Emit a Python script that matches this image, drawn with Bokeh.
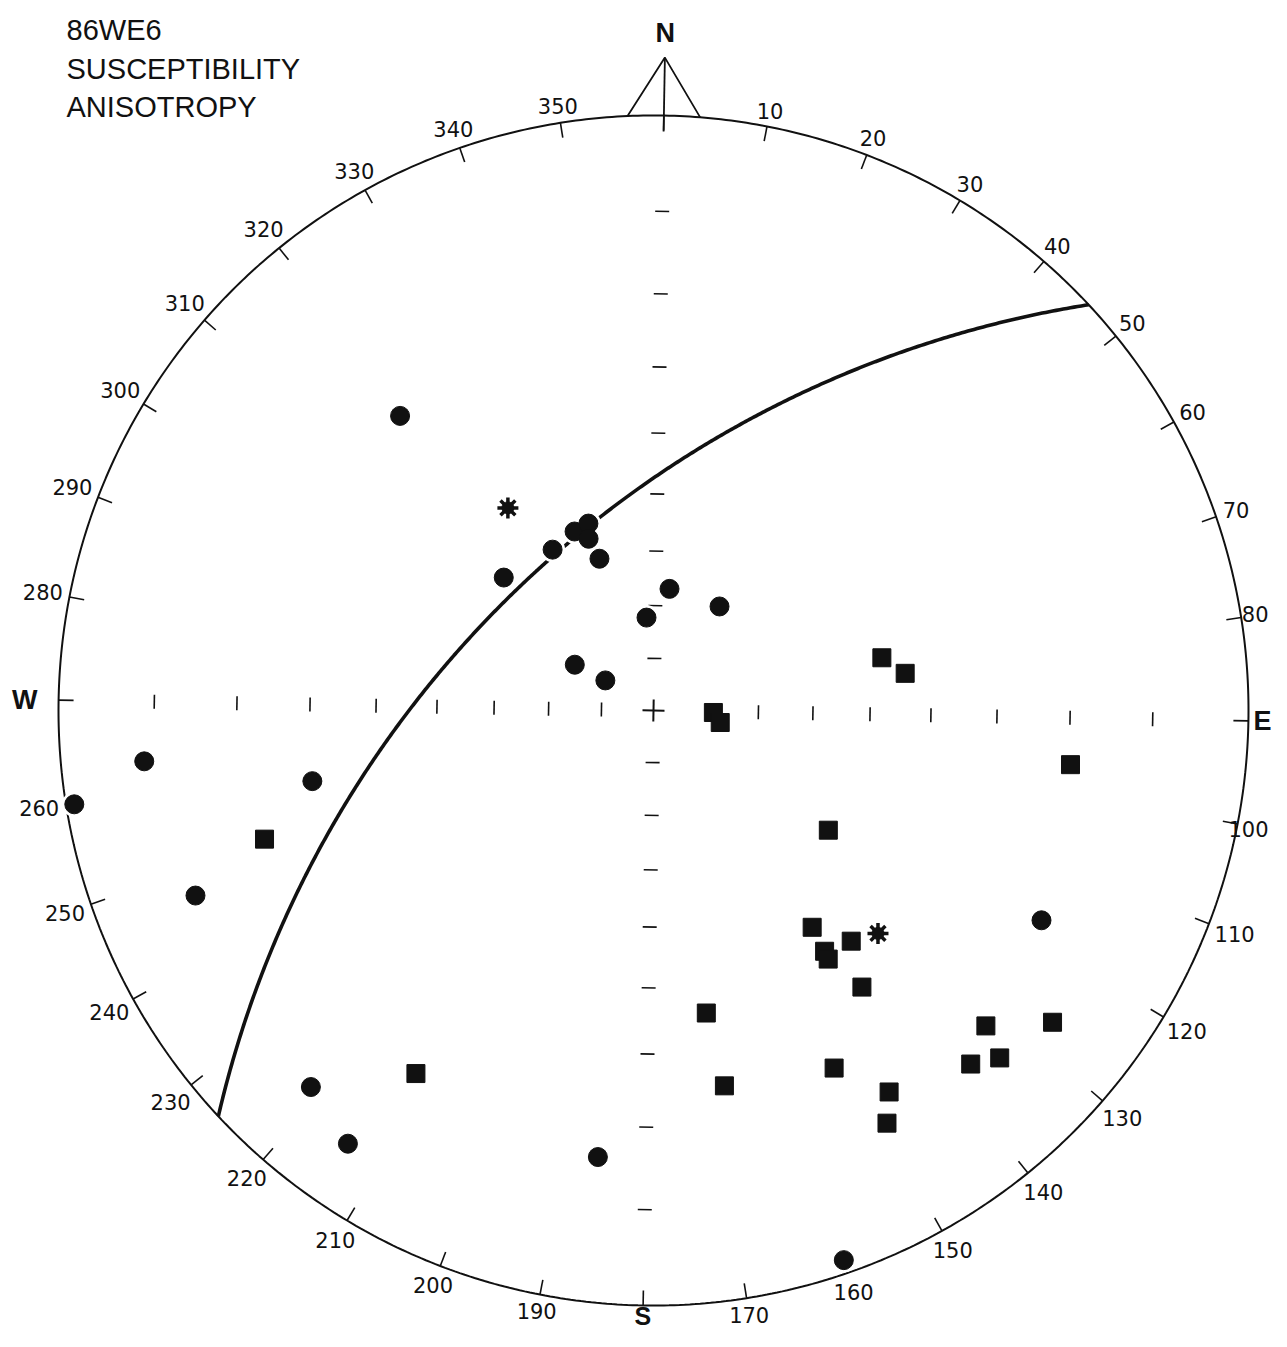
import numpy as np
from bokeh.plotting import figure
from bokeh.models import Range1d
from bokeh.core.properties import value
from bokeh.embed import file_html
from bokeh.resources import INLINE

# ---------------- data ----------------
TITLE_LINES = ["86WE6", "SUSCEPTIBILITY", "ANISOTROPY"]

# Wulff (equal-angle) lower-hemisphere net; trend / plunge in degrees
CIRCLE_TREND = [318.3, 310.6, 326.9, 335.2, 339.8, 338.3, 339.4, 6.5, 354.7, 31.4,
                299.2, 301.0, 263.3, 257.3, 259.8, 247.0, 221.3, 214.2, 186.1, 159.9, 117.4]
CIRCLE_PLUNGE = [23.7, 52.8, 54.6, 53.6, 53.2, 55.7, 59.7, 66.7, 72.2, 66.6,
                 72.6, 79.1, 8.6, 29.3, 0.8, 10.6, 8.9, 6.6, 15.8, 1.3, 16.9]

SQUARE_TREND = [76.0, 80.6, 90.9, 99.2, 96.4, 250.7, 123.4, 142.8, 138.4, 143.6, 143.9,
                142.0, 169.1, 132.5, 127.0, 137.1, 134.1, 152.2, 168.3, 147.3, 149.5, 212.2]
SQUARE_PLUNGE = [47.0, 43.7, 78.5, 77.0, 19.5, 20.9, 50.8, 41.4, 35.9, 37.2, 35.9,
                 29.6, 35.4, 14.8, 9.2, 12.8, 11.0, 22.1, 24.6, 16.0, 12.9, 17.8]

STAR_TREND = [323.3, 133.8]
STAR_PLUNGE = [44.5, 34.0]

PLANE_STRIKE = 226.0   # right-hand rule
PLANE_DIP = 56.0

RIM_LABEL_AZ = [a for a in range(10, 360, 10) if a % 90]
RIM_LABEL_TEXT = [str(a) for a in RIM_LABEL_AZ]
CARDINAL_TEXT = ["N", "E", "S", "W"]
CARDINAL_AZ = [0, 90, 180, 270]
AXIS_TICK_PLUNGE = [80, 70, 60, 50, 40, 30, 20, 10]

# ---------------- layout ----------------
W, H = 1271, 1331
CX, CY, RPX = 653.0, 710.0, 595.0     # net centre / radius in figure pixels
ROT = 1.0                              # the drawing is turned about 1 degree
INK = "#111111"


def px(n):
    return n / RPX


def polar(az, r):
    th = np.radians(np.asarray(az, dtype=float) + ROT)
    r = np.asarray(r, dtype=float)
    return r * np.sin(th), r * np.cos(th)


def wulff(trend, plunge):
    rho = np.tan(np.radians(90.0 - np.asarray(plunge, dtype=float)) / 2.0)
    return polar(trend, rho)


p = figure(width=W, height=H,
           x_range=Range1d(-CX / RPX, (W - CX) / RPX),
           y_range=Range1d((CY - H) / RPX, CY / RPX),
           output_backend="svg", toolbar_location=None,
           x_axis_location=None, y_axis_location=None, min_border=0)
p.grid.visible = False
p.outline_line_color = None
p.background_fill_color = "white"
p.border_fill_color = "white"

# primitive circle
az = np.linspace(0, 360, 721)
rx, ry = polar(az, np.ones_like(az))
p.line(rx, ry, line_color=INK, line_width=2)

# rim ticks every 10 degrees (inward)
taz = np.arange(0, 360, 10)
x0, y0 = polar(taz, np.ones_like(taz))
x1, y1 = polar(taz, np.full(len(taz), 1 - px(15)))
p.segment(x0, y0, x1, y1, line_color=INK, line_width=1.6)

# rim labels
fs = 21
xmax = px(W - CX - 3)
lx, ly = [], []
for a, t in zip(RIM_LABEL_AZ, RIM_LABEL_TEXT):
    th = np.radians(a + ROT)
    dx, dy = np.sin(th), np.cos(th)
    half_w = len(t) * 0.636 * fs / 2
    half_h = 0.36 * fs
    d = 6 + abs(dx) * half_w + abs(dy) * half_h
    xx, yy = polar(a, 1 + px(d))
    xx = min(float(xx), xmax - px(half_w))
    lx.append(xx)
    ly.append(float(yy))
p.text(lx, ly, text=RIM_LABEL_TEXT, text_font=value("DejaVu Sans"),
       text_font_size=f"{fs}px", text_align="center", text_baseline="middle",
       text_color=INK)

# cardinal letters
card_r = [1.138, 1.0235, 1.017, 1.057]
card_fs = ["27px", "27px", "25px", "27px"]
cx_, cy_ = polar(CARDINAL_AZ, card_r)
for i in range(4):
    p.text([float(cx_[i])], [float(cy_[i])], text=[CARDINAL_TEXT[i]],
           text_font=value("Liberation Sans"), text_font_style="bold",
           text_font_size=card_fs[i], text_align="center",
           text_baseline="middle", text_color=INK)

# north arrow
apx, apy = polar(0, 1 + px(58))
blx, bly = polar(-3.5, 1.0)
brx, bry = polar(3.5, 1.0)
bmx, bmy = polar(0, 1 - px(16))
p.line([float(blx), float(apx), float(brx)], [float(bly), float(apy), float(bry)],
       line_color=INK, line_width=1.8)
p.line([float(apx), float(bmx)], [float(apy), float(bmy)], line_color=INK, line_width=1.8)

# centre cross
for a in (0, 90):
    ax0, ay0 = polar(a, px(11))
    ax1, ay1 = polar(a + 180, px(11))
    p.line([float(ax0), float(ax1)], [float(ay0), float(ay1)], line_color=INK, line_width=2)

# plunge ticks along the N-S and E-W diameters (10 degree steps)
rho = np.tan(np.radians(90.0 - np.array(AXIS_TICK_PLUNGE, dtype=float)) / 2.0)
tx0, ty0, tx1, ty1 = [], [], [], []
for a in (0, 90, 180, 270):
    th = np.radians(a + ROT)
    ux, uy = np.sin(th), np.cos(th)       # along the diameter
    vx, vy = -uy, ux                      # across it
    hl = px(7)
    for r in rho:
        tx0.append(r * ux - hl * vx)
        ty0.append(r * uy - hl * vy)
        tx1.append(r * ux + hl * vx)
        ty1.append(r * uy + hl * vy)
p.segment(tx0, ty0, tx1, ty1, line_color=INK, line_width=1.6)

# great circle of the plane
t = np.linspace(0, np.pi, 500)
sr, dr = np.radians(PLANE_STRIKE), np.radians(PLANE_DIP)
ddr = np.radians(PLANE_STRIKE + 90.0)
s_vec = np.array([np.sin(sr), np.cos(sr), 0.0])
d_vec = np.array([np.sin(ddr) * np.cos(dr), np.cos(ddr) * np.cos(dr), np.sin(dr)])
v = np.outer(np.cos(t), s_vec) + np.outer(np.sin(t), d_vec)
g_trend = np.degrees(np.arctan2(v[:, 0], v[:, 1]))
g_plunge = np.degrees(np.arcsin(np.clip(v[:, 2], -1, 1)))
gx, gy = wulff(g_trend, g_plunge)
p.line(gx, gy, line_color=INK, line_width=3.6)

# data points
cxp, cyp = wulff(CIRCLE_TREND, CIRCLE_PLUNGE)
sxp, syp = wulff(SQUARE_TREND, SQUARE_PLUNGE)
stx, sty = wulff(STAR_TREND, STAR_PLUNGE)

# white halos so the great circle breaks around the symbols
p.scatter(cxp, cyp, marker="circle", size=25, fill_color="white", line_color=None)
p.scatter(sxp, syp, marker="square", size=23, fill_color="white", line_color=None)
p.scatter(stx, sty, marker="circle", size=24, fill_color="white", line_color=None)

p.scatter(cxp, cyp, marker="circle", size=19, fill_color=INK, line_color=INK)
p.scatter(sxp, syp, marker="square", size=18, fill_color=INK, line_color=INK)
p.scatter(stx, sty, marker="asterisk", size=21, line_color=INK, line_width=3.5)
p.scatter(stx, sty, marker="circle", size=12, fill_color=INK, line_color=INK)

# title
tfx = px(66 - CX)
for line, mid in zip(TITLE_LINES, [29, 68.5, 106]):
    p.text([tfx], [px(CY - mid)], text=[line], text_font=value("Liberation Sans"),
           text_font_size="29px", text_align="left", text_baseline="middle",
           text_color=INK)

open("out.html", "w").write(file_html(p, INLINE))
